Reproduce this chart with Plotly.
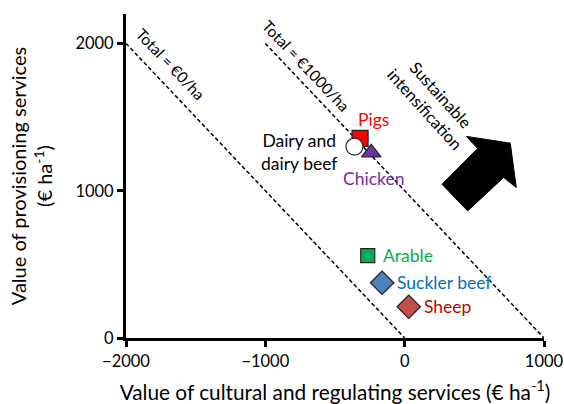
import plotly.graph_objects as go

# Data
systems = ["Pigs", "Dairy and<br>dairy beef", "Chicken", "Arable", "Suckler beef", "Sheep"]
cultural_regulating = [-320, -360, -240, -265, -162, 29]
provisioning = [1355, 1300, 1258, 560, 375, 212]
marker_symbols = ["square", "circle", "triangle-up", "square", "diamond", "diamond"]
marker_colors = ["#FF0000", "#FFFFFF", "#7030A0", "#00B050", "#4F81BD", "#C0504D"]
marker_sizes = [16, 17, 17, 14, 18, 18]
label_colors = ["#FF0000", "#000000", "#7030A0", "#00B050", "#0070C0", "#C00000"]
label_anchor = ["center", "right", "center", "left", "left", "left"]
label_xshift = [13, -16, 2, 13, 13, 13]
label_yshift = [19, -5, -26, 0, 0, 0]

totals = [0, 1000]
total_labels = ["Total = €0/ha", "Total = €1000/ha"]
total_label_pos = [(-1681, 1860), (-706, 1847)]

arrow_x = [443, 758, 801, 710, 452, 268, 524]
arrow_y = [1369, 1323, 1022, 1090, 863, 1044, 1287]

x_ticks = [-2000, -1000, 0, 1000]
y_ticks = [0, 1000, 2000]

FONT = "Lato, 'Open Sans', sans-serif"

fig = go.Figure()

# iso-total lines
for t in totals:
    fig.add_trace(go.Scatter(x=[t - 2000, t], y=[2000, 0], mode="lines",
                             line=dict(color="black", width=1.5, dash="4px,2.5px"),
                             hoverinfo="skip", showlegend=False))

# arrow
path = "M " + " L ".join(f"{x},{y}" for x, y in zip(arrow_x, arrow_y)) + " Z"
fig.add_shape(type="path", path=path, xref="x", yref="y",
              fillcolor="black", line=dict(color="black", width=1))

# points
for i in range(len(systems)):
    fig.add_trace(go.Scatter(
        x=[cultural_regulating[i]], y=[provisioning[i]], mode="markers",
        marker=dict(symbol=marker_symbols[i], color=marker_colors[i], size=marker_sizes[i],
                    line=dict(color="#222222", width=1.2)),
        showlegend=False, hoverinfo="skip"))
    fig.add_annotation(x=cultural_regulating[i], y=provisioning[i], text=systems[i],
                       showarrow=False, xanchor=label_anchor[i], yanchor="middle",
                       xshift=label_xshift[i], yshift=label_yshift[i], align="center",
                       font=dict(size=17.5, color=label_colors[i], family=FONT))

for lab, (lx, ly) in zip(total_labels, total_label_pos):
    fig.add_annotation(x=lx, y=ly, text=lab, showarrow=False, textangle=46.5,
                       font=dict(size=15.5, color="black", family=FONT))

fig.add_annotation(x=206, y=1602, text="Sustainable<br>intensification", showarrow=False,
                   textangle=48, font=dict(size=16.5, color="black", family=FONT))

fig.update_layout(
    width=564, height=404,
    margin=dict(l=126, r=20, t=14, b=66),
    plot_bgcolor="white", paper_bgcolor="white",
    font=dict(family=FONT, size=16, color="black"),
    xaxis=dict(range=[-2000, 1000], tickvals=x_ticks, showgrid=False, zeroline=False,
               showline=True, linecolor="black", linewidth=3, automargin=False,
               ticks="outside", ticklen=6, tickwidth=2.5, tickcolor="black",
               tickfont=dict(size=16.5),
               title=dict(text="Value of cultural and regulating services (€ ha<sup>-1</sup>)",
                          font=dict(size=20.8), standoff=17)),
    yaxis=dict(range=[0, 2200], tickvals=y_ticks, showgrid=False, zeroline=False,
               showline=True, linecolor="black", linewidth=3, automargin=False,
               ticks="outside", ticklen=6, tickwidth=2.5, tickcolor="black",
               tickfont=dict(size=16.5),
               title=dict(text="Value of provisioning services<br>(€ ha<sup>-1</sup>)",
                          font=dict(size=20), standoff=18)),
)

fig.write_html(
    "out.html",
    config={"displayModeBar": False},
    post_script="document.body.style.margin='0';"
                "document.documentElement.style.overflow='hidden';"
                "document.body.style.overflow='hidden';",
)
